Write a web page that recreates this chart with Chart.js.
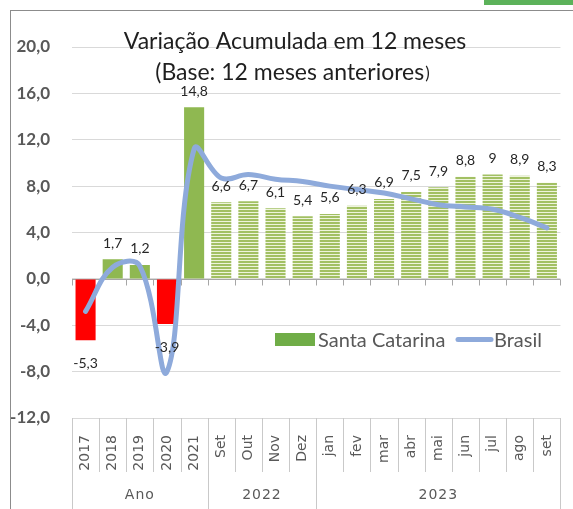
<!DOCTYPE html>
<html>
<head>
<meta charset="utf-8">
<script src="https://cdn.jsdelivr.net/npm/chart.js@4"></script>
<style>
  html, body { margin: 0; padding: 0; background: #fff; }
  body { width: 573px; height: 509px; position: relative; overflow: hidden; }
  #frame { position: absolute; left: 10px; top: 10px; width: 620px; height: 620px; border: 1px solid #8c8c8c; box-sizing: border-box; }
  #tag { position: absolute; left: 484px; top: 0; width: 89px; height: 5px; background: #5cb25a; }
  #chart { position: absolute; left: 0; top: 0; }
</style>
</head>
<body>
<div id="frame"></div>
<div id="tag"></div>
<canvas id="chart" width="573" height="509"></canvas>
<script>
// categories and groups of the axis
const categories = ['2017', '2018', '2019', '2020', '2021', 'Set', 'Out', 'Nov', 'Dez', 'jan', 'fev', 'mar', 'abr', 'mai', 'jun', 'jul', 'ago', 'set'];
const groupLabels = ['Ano', '2022', '2023'];
const groupSizes = [5, 4, 9];

// values
const santaCatarina = [-5.3, 1.7, 1.2, -3.9, 14.8, 6.6, 6.7, 6.1, 5.4, 5.6, 6.3, 6.9, 7.5, 7.9, 8.8, 9, 8.9, 8.3];
const brasil = [-2.8, 1.0, 1.1, -8.0, 11.2, 8.7, 9.0, 8.6, 8.4, 8.0, 7.7, 7.4, 6.9, 6.4, 6.2, 6.0, 5.3, 4.4];
const yTicks = [-12, -8, -4, 0, 4, 8, 12, 16, 20];

const titleLines = ['Variação Acumulada em 12 meses', '(Base: 12 meses anteriores', ')'];

// which group each category belongs to
const groupOf = [];
groupSizes.forEach((n, g) => { for (let k = 0; k < n; k++) groupOf.push(g); });

const canvas = document.getElementById('chart');
const ctx = canvas.getContext('2d');

// horizontal stripes for the monthly bars
const stripe = document.createElement('canvas');
stripe.width = 4; stripe.height = 3;
const sctx = stripe.getContext('2d');
sctx.fillStyle = '#eef4dc'; sctx.fillRect(0, 0, 4, 3);
sctx.fillStyle = '#a2c063'; sctx.fillRect(0, 0, 4, 2);
const stripePattern = ctx.createPattern(stripe, 'repeat');

const lineColor = '#8eaadb';
const greyText = '#595959';

function boundaries(chart) {
  const xs = chart.scales.x;
  const half = (xs.getPixelForValue(1) - xs.getPixelForValue(0)) / 2;
  const out = [];
  for (let i = 0; i <= categories.length; i++) {
    out.push(i < categories.length ? xs.getPixelForValue(i) - half : xs.getPixelForValue(i - 1) + half);
  }
  return out;
}

const decorPlugin = {
  id: 'decor',
  beforeDatasetsDraw(chart) {
    // axis line at zero with small ticks
    const c = chart.ctx, area = chart.chartArea;
    const y0 = Math.round(chart.scales.y.getPixelForValue(0)) + 0.5;
    c.save();
    c.strokeStyle = '#a6a6a6';
    c.lineWidth = 1;
    c.beginPath();
    c.moveTo(area.left, y0); c.lineTo(area.right, y0);
    boundaries(chart).forEach(bx => {
      const x = Math.round(bx) + 0.5;
      c.moveTo(x, y0); c.lineTo(x, y0 + 6);
    });
    c.stroke();
    c.restore();
  },
  afterDatasetsDraw(chart) {
    // value labels
    const c = chart.ctx;
    const meta = chart.getDatasetMeta(1);
    c.save();
    c.font = '14px Lato';
    c.fillStyle = '#262626';
    c.textAlign = 'center';
    c.textBaseline = 'middle';
    meta.data.forEach((bar, i) => {
      const v = santaCatarina[i];
      const txt = String(v).replace('.', ',');
      c.fillText(txt, bar.x, v < 0 ? bar.y + 23 : bar.y - 16);
    });
    c.restore();
  },
  afterDraw(chart) {
    const c = chart.ctx, area = chart.chartArea;
    const bx = boundaries(chart);
    c.save();

    // category table under the plot
    const top = area.bottom, rowEnd = area.bottom + 54, bottom = chart.height;
    const groupStarts = [0];
    groupSizes.forEach(n => groupStarts.push(groupStarts[groupStarts.length - 1] + n));
    c.strokeStyle = '#c9c9c9';
    c.lineWidth = 1;
    c.beginPath();
    bx.forEach((x, i) => {
      const px = Math.round(x) + 0.5;
      c.moveTo(px, top);
      c.lineTo(px, groupStarts.includes(i) ? bottom : rowEnd);
    });
    c.stroke();

    c.fillStyle = greyText;
    c.font = '14px "DejaVu Sans"';
    c.letterSpacing = '1px';
    c.textAlign = 'center';
    c.textBaseline = 'middle';
    groupLabels.forEach((g, k) => {
      const cx = (bx[groupStarts[k]] + bx[groupStarts[k + 1]]) / 2;
      c.fillText(g, cx, 495);
    });
    c.letterSpacing = '0px';

    // title
    c.fillStyle = '#1f1f1f';
    c.textAlign = 'left';
    c.textBaseline = 'alphabetic';
    c.font = '23px Lato';
    const w1 = c.measureText(titleLines[0]).width;
    c.fillText(titleLines[0], 295 - w1 / 2, 49);
    const w2 = c.measureText(titleLines[1]).width;
    c.font = '17px Lato';
    const w3 = c.measureText(titleLines[2]).width;
    const x2 = 292 - (w2 + w3) / 2;
    c.font = '23px Lato';
    c.fillText(titleLines[1], x2, 80);
    c.font = '17px Lato';
    c.fillText(titleLines[2], x2 + w2 + 1, 79);

    // legend inside the plot
    const ds = chart.data.datasets;
    c.font = '20px Lato';
    c.fillStyle = '#70ad47';
    c.fillRect(275, 333, 40, 13);
    c.fillStyle = greyText;
    c.fillText(ds[1].label, 318, 347);
    c.strokeStyle = lineColor;
    c.lineWidth = 5;
    c.lineCap = 'round';
    c.beginPath();
    c.moveTo(458, 339.5); c.lineTo(491, 339.5);
    c.stroke();
    c.fillText(ds[0].label, 494, 347);
    c.restore();
  }
};

new Chart(ctx, {
  data: {
    labels: categories,
    datasets: [
      {
        type: 'line',
        label: 'Brasil',
        data: brasil,
        borderColor: lineColor,
        borderWidth: 5,
        borderCapStyle: 'round',
        pointRadius: 0,
        tension: 0.4,
        fill: false,
        order: 0
      },
      {
        type: 'bar',
        label: 'Santa Catarina',
        data: santaCatarina,
        backgroundColor: c => {
          const v = santaCatarina[c.dataIndex];
          if (v < 0) return '#ff0000';
          return groupOf[c.dataIndex] === 0 ? '#8fb851' : stripePattern;
        },
        barPercentage: 0.74,
        categoryPercentage: 1,
        order: 1
      }
    ]
  },
  options: {
    responsive: false,
    animation: false,
    devicePixelRatio: 1,
    layout: { padding: { top: 47, right: 11.5, left: 0, bottom: 0 } },
    plugins: {
      legend: { display: false },
      tooltip: { enabled: false },
      title: { display: false }
    },
    scales: {
      x: {
        offset: true,
        grid: { display: false },
        border: { display: false },
        ticks: {
          autoSkip: false,
          minRotation: 90,
          maxRotation: 90,
          padding: 9,
          color: greyText,
          font: { family: 'DejaVu Sans', size: 14 }
        },
        afterFit: s => { s.height = 91; }
      },
      y: {
        min: yTicks[0],
        max: yTicks[yTicks.length - 1],
        grid: { color: '#d9d9d9', drawTicks: false },
        border: { display: false },
        ticks: {
          stepSize: yTicks[1] - yTicks[0],
          padding: 22,
          color: greyText,
          font: { family: 'Lato', size: 17, weight: 'bold' },
          callback: v => v.toFixed(1).replace('.', ',')
        },
        afterFit: s => { s.width = 72; }
      }
    }
  },
  plugins: [decorPlugin]
});
</script>
</body>
</html>
